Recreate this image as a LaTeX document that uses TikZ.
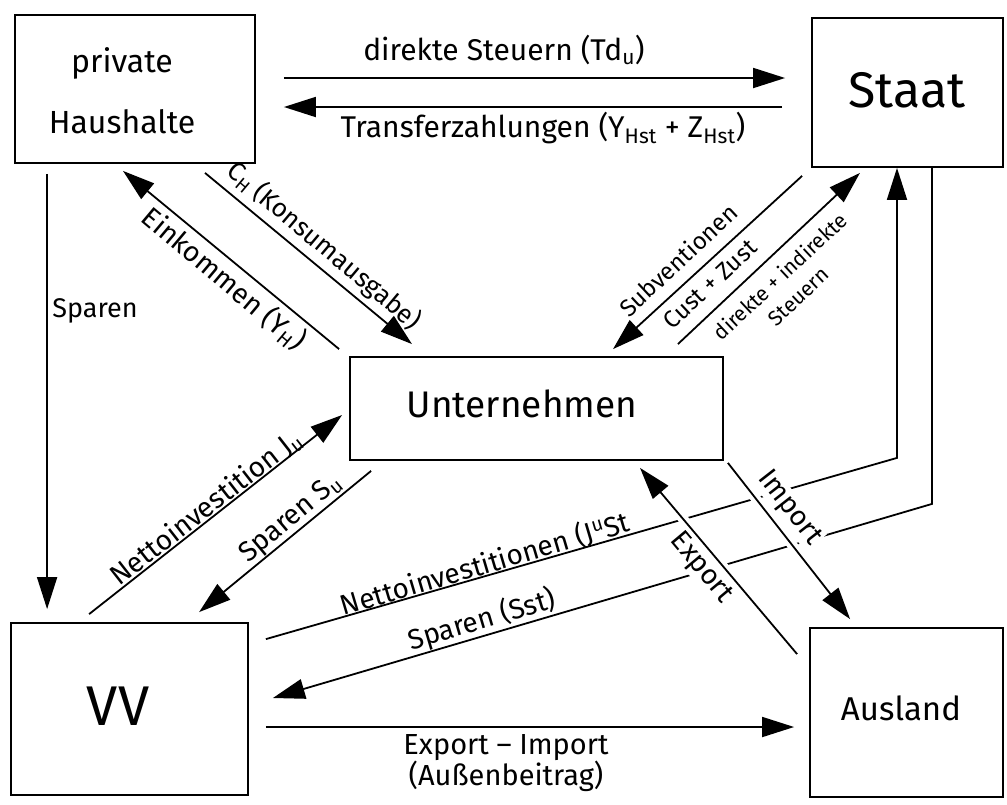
\documentclass[tikz,border=0pt]{standalone}
\usepackage{fontspec}
\setmainfont{Fira Sans}
\usetikzlibrary{arrows.meta,calc}
\begin{document}
\begin{tikzpicture}[x=1pt,y=-1pt,
  box/.style={draw,line width=1.8pt,inner sep=0pt},
  flow/.style={line width=1.8pt,-{Triangle[length=32pt,width=20pt]}},
  casing/.style={preaction={draw=white,line width=10pt,-,shorten <=30pt,shorten >=35pt}},
  lbl/.style={font=\fontsize{28}{30}\selectfont,inner sep=1pt},
  hlbl/.style={font=\fontsize{30}{32}\selectfont,inner sep=1pt},
  ttl/.style={anchor=base}]
\useasboundingbox[fill=white] (0,0) rectangle (1007,804);

% boxes
\node[box,minimum width=240pt,minimum height=148pt] (hh) at (135,89) {};
\node[box,minimum width=191pt,minimum height=149pt] (staat) at (907.5,92.5) {};
\node[box,minimum width=373pt,minimum height=103pt] (unt) at (536.5,408.5) {};
\node[box,minimum width=237pt,minimum height=172pt] (vv) at (129.5,709) {};
\node[box,minimum width=193pt,minimum height=169pt] (ausland) at (906.5,712.5) {};

% box texts
\node[ttl,font=\fontsize{32}{34}\selectfont] (hh1) at (122,72) {private};
\node[ttl,font=\fontsize{32}{34}\selectfont] (hh2) at (122,133) {Haushalte};
\node[ttl,font=\fontsize{50}{52}\selectfont] (staat-t) at (907,107) {Staat};
\node[ttl,font=\fontsize{37}{40}\selectfont] (unt-t) at (522,417) {Unternehmen};
\node[ttl,font=\fontsize{56}{58}\selectfont] (vv-t) at (118,725) {VV};
\node[ttl,font=\fontsize{33}{35}\selectfont] (ausland-t) at (901,720) {Ausland};

% connectors
\draw[flow] ($(hh.east)+(28,-11)$) -- ($(staat.west)+(-26,-14.5)$);
\draw[flow] ($(staat.west)+(-29,14.5)$) -- ($(hh.east)+(28,18)$);
\draw[flow] ($(hh.south)+(70,9)$) -- ($(unt.north)+(-124.5,-12)$);
\draw[flow] ($(unt.north west)+(-10,-7)$) -- ($(hh.south)+(-12,7)$);
\draw[flow] ($(hh.south west)+(33,10)$) -- ($(vv.north west)+(37,-13)$);
\draw[flow] ($(vv.north west)+(79,-8)$) -- ($(unt.west)+(-7,6.5)$);
\draw[flow] ($(unt.south west)+(22,10)$) -- ($(vv.north west)+(189,-10)$);
\draw[flow] ($(staat.south west)+(-9,8)$) -- ($(unt.north)+(76.5,-7)$);
\draw[flow] ($(unt.north east)+(-46,-12)$) -- ($(staat.south)+(-47.5,5)$);
\draw[flow] ($(vv.north east)+(17,17)$) -- ($(staat.south)+(-10.5,290)$) -- ($(staat.south)+(-10.5,0)$);
\draw[flow] ($(staat.south)+(24.5,0)$) -- ($(staat.south)+(24.5,336)$) -- ($(vv.east)+(24,-11)$);
\draw[flow] ($(vv.east)+(17,18)$) -- ($(ausland.west)+(-15,14.5)$);

% labels
\node[hlbl] (l-ds) at (504,50) {direkte Steuern (Td\textsubscript{u})};
\node[hlbl] (l-tz) at (543,128) {Transferzahlungen (Y\textsubscript{Hst} + Z\textsubscript{Hst})};
\node[lbl,rotate=-40,font=\fontsize{26}{28}\selectfont] (l-ch) at (324,246) {C\textsubscript{H} (Konsumausgabe)};
\node[lbl,rotate=-40] (l-ek) at (224,279) {Einkommen (Y\textsubscript{H})};
\node[lbl,font=\fontsize{27}{29}\selectfont] (l-sp) at (95,311) {Sparen};
\node[lbl,rotate=38] (l-ni) at (206,508) {Nettoinvestition J\textsubscript{u}};
\node[lbl,rotate=40] (l-su) at (291,519) {Sparen S\textsubscript{u}};
\node[lbl,rotate=43,font=\fontsize{24}{26}\selectfont] (l-sub) at (678,260) {Subventionen};
\node[lbl,rotate=43,font=\fontsize{24}{26}\selectfont] (l-cz) at (710,284) {Cust + Zust};
\node[lbl,rotate=43,align=center,font=\fontsize{21}{27}\selectfont] (l-st) at (789,286) {direkte + indirekte\\Steuern};
\node[lbl,rotate=16.5] (l-nis) at (485,564) {Nettoinvestitionen (J\textsuperscript{u}St};
\node[lbl,rotate=16.5] (l-sst) at (482,620) {Sparen (Sst)};
\node[hlbl,align=center,font=\fontsize{29}{29}\selectfont] (l-ei) at (506,763) {Export – Import\\(Außenbeitrag)};
\node[lbl,rotate=-50,fill=white] (l-ex) at (701,568) {Export};
\node[lbl,rotate=-52,fill=white] (l-im) at (789,508) {Import};

% crossing arrows
\draw[flow,casing] ($(ausland.north west)+(-12,27)$) -- ($(unt.south)+(103.5,7)$);
\draw[flow,casing] ($(unt.south east)+(4,2)$) -- ($(ausland.north west)+(41,-8)$);
\end{tikzpicture}
\end{document}
